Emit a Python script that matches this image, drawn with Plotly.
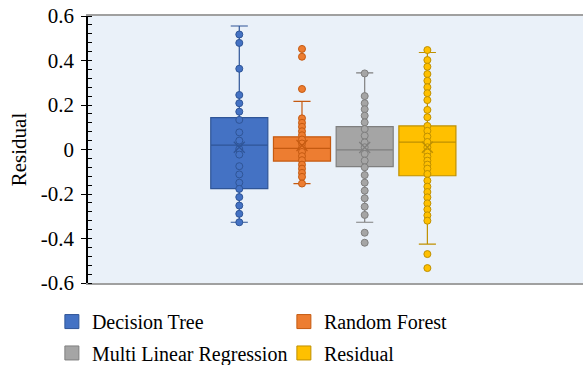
import plotly.graph_objects as go

# ---------------- data ----------------
series_names = ["Decision Tree", "Random Forest", "Multi Linear Regression", "Residual"]

dt_points = [0.517, 0.479, 0.363, 0.245, 0.208, 0.170, 0.133, 0.077, 0.040, 0.002,
             -0.023, -0.075, -0.112, -0.149, -0.177, -0.214, -0.252, -0.289, -0.327]
rf_points = [0.452, 0.417, 0.272, 0.140, 0.120, 0.102, 0.082, 0.064, 0.045, 0.027,
             0.007, -0.011, -0.030, -0.048, -0.068, -0.086, -0.105, -0.123, -0.153]
mlr_points = [0.342, 0.240, 0.208, 0.181, 0.152, 0.122, 0.092, 0.062, 0.032, 0.010,
              -0.020, -0.050, -0.080, -0.115, -0.149, -0.185, -0.219, -0.257, -0.294,
              -0.374, -0.419]
res_points = [0.447, 0.402, 0.372, 0.339, 0.309, 0.280, 0.253, 0.222, 0.178, 0.145,
              0.106, 0.084, 0.058, 0.034, 0.010, -0.014, -0.032, -0.050, -0.068, -0.086,
              -0.110, -0.140, -0.167, -0.191, -0.215, -0.242, -0.269, -0.296, -0.320,
              -0.470, -0.533]

q1_vals = [-0.176, -0.052, -0.077, -0.118]
median_vals = [0.020, 0.005, -0.002, 0.033]
q3_vals = [0.143, 0.057, 0.103, 0.106]
lower_vals = [-0.327, -0.153, -0.327, -0.425]
upper_vals = [0.555, 0.216, 0.344, 0.436]
mean_vals = [0.010, 0.018, 0.009, 0.010]

ytick_vals = [0.6, 0.4, 0.2, 0, -0.2, -0.4, -0.6]
ytick_text = ["0.6", "0.4", "0.2", "0", "-0.2", "-0.4", "-0.6"]

# ---------------- styling ----------------
fill_colors = ["#4472C4", "#ED7D31", "#A5A5A5", "#FFC000"]
dark_colors = ["#2F5597", "#C55A11", "#7F7F7F", "#BF9000"]
legend_ids = ["legend", "legend", "legend2", "legend2"]
point_lists = [dt_points, rf_points, mlr_points, res_points]
FONT = "Liberation Serif"

fig = go.Figure()
for i, name in enumerate(series_names):
    fig.add_trace(go.Box(
        x=[i], q1=[q1_vals[i]], median=[median_vals[i]], q3=[q3_vals[i]],
        lowerfence=[lower_vals[i]], upperfence=[upper_vals[i]],
        width=0.91, whiskerwidth=0.3, boxpoints=False,
        fillcolor=fill_colors[i], line=dict(color=dark_colors[i], width=1.2),
        showlegend=False, hoverinfo="skip",
    ))
for i, name in enumerate(series_names):
    pts = point_lists[i]
    fig.add_trace(go.Scatter(
        x=[i] * len(pts), y=pts, mode="markers",
        marker=dict(size=7, color=fill_colors[i], line=dict(color=dark_colors[i], width=1)),
        showlegend=False, hoverinfo="skip",
    ))
    fig.add_trace(go.Scatter(
        x=[i], y=[mean_vals[i]], mode="markers",
        marker=dict(symbol="x-thin", size=11, line=dict(color=dark_colors[i], width=1.2)),
        showlegend=False, hoverinfo="skip",
    ))
# legend entries
for i, name in enumerate(series_names):
    fig.add_trace(go.Scatter(
        x=[None], y=[None], mode="markers", name=name, legend=legend_ids[i],
        marker=dict(symbol="square", size=14, color=fill_colors[i],
                    line=dict(color=dark_colors[i], width=1)),
    ))

legend_common = dict(
    orientation="h", xanchor="left", yanchor="middle",
    xref="container", yref="container",
    entrywidth=187, entrywidthmode="pixels",
    font=dict(family=FONT, size=20, color="black"),
    bgcolor="rgba(0,0,0,0)",
)

fig.update_layout(
    width=583, height=365,
    margin=dict(l=88, r=0, t=16, b=82),
    paper_bgcolor="white",
    plot_bgcolor="#EAF1F9",
    font=dict(family=FONT, size=20, color="black"),
    legend=dict(x=0.089, y=0.119, **legend_common),
    legend2=dict(x=0.089, y=0.033, **legend_common),
    xaxis=dict(
        range=[-2.413, 5.482], showticklabels=False, ticks="", showgrid=False,
        zeroline=False, showline=True, linecolor="#A0A0A0", linewidth=1.5, mirror=True,
        fixedrange=True, automargin=False,
    ),
    yaxis=dict(
        range=[-0.6, 0.6], tickvals=ytick_vals, ticktext=ytick_text,
        ticks="outside", ticklen=5, tickwidth=1, tickcolor="black",
        minor=dict(dtick=0.04, ticks="inside", ticklen=4, tickcolor="black", tickwidth=1),
        showgrid=False, zeroline=False, showline=True, linecolor="black", linewidth=1.5,
        title=dict(text="Residual", font=dict(family=FONT, size=21), standoff=8),
        tickfont=dict(family=FONT, size=21), ticklabelstandoff=3,
        automargin=False, fixedrange=True,
    ),
)

# remove the browser's default 8px body margin so the figure sits at the page origin
fig.write_html(
    "out.html",
    config={"displayModeBar": False},
    post_script=(
        "document.body.style.margin='0';document.body.style.overflow='hidden';"
        "document.documentElement.style.overflow='hidden';"
    ),
)
